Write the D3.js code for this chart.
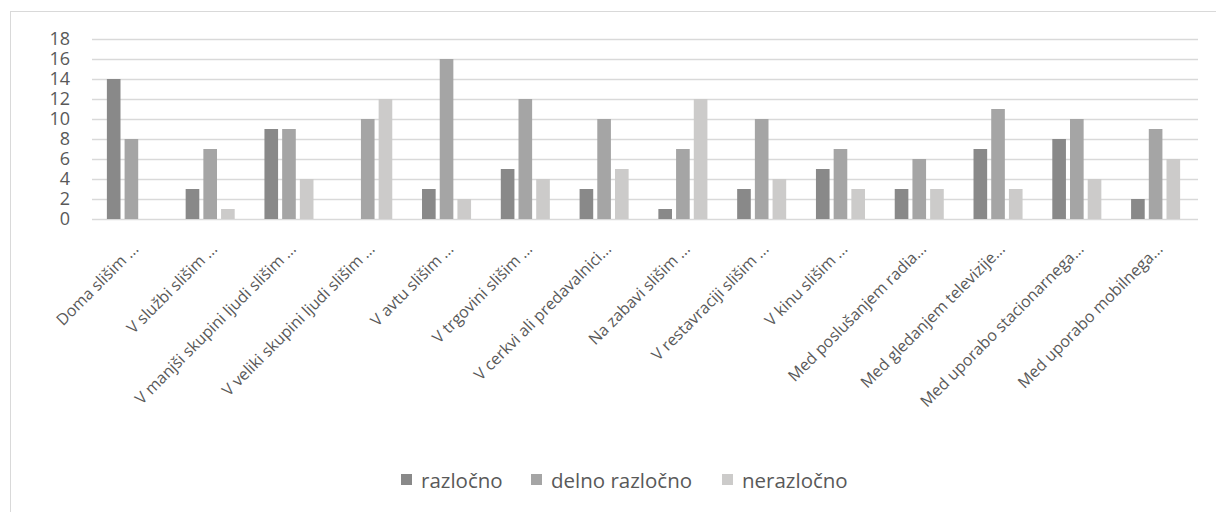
<!DOCTYPE html>
<html><head><meta charset="utf-8">
<script src="https://cdn.jsdelivr.net/npm/d3@7"></script>
<style>body{margin:0;background:#fff}svg{display:block}text{font-family:"Open Sans",sans-serif;fill:#595959}</style>
</head><body><svg id="c" width="1216" height="512"></svg>
<script>
const categories = ["Doma slišim ...","V službi slišim ...","V manjši skupini ljudi slišim ...","V veliki skupini ljudi slišim ...","V avtu slišim ...","V trgovini slišim ...","V cerkvi ali predavalnici...","Na zabavi slišim ...","V restavraciji slišim ...","V kinu slišim ...","Med poslušanjem radia...","Med gledanjem televizije...","Med uporabo stacionarnega...","Med uporabo mobilnega..."];
const seriesNames = ["razločno","delno razločno","nerazločno"];
const razlocno = [14,3,9,0,3,5,3,1,3,5,3,7,8,2];
const delnoRazlocno = [8,7,9,10,16,12,10,7,10,7,6,11,10,9];
const nerazlocno = [0,1,4,12,2,4,5,12,4,3,3,3,4,6];
const yTicks = [0,2,4,6,8,10,12,14,16,18];
const colors = ["#898989","#a5a5a5","#cccbca"];

const values = [razlocno, delnoRazlocno, nerazlocno];
const svg = d3.select("#c");
svg.append("rect").attr("x",10.5).attr("y",11.5).attr("width",1220).attr("height",520)
  .attr("fill","none").attr("stroke","#d9d9d9");

const x0 = d3.scaleBand().domain(categories).range([92,1195]).padding(0);
const x1 = d3.scaleBand().domain(seriesNames).range([0,x0.bandwidth()]).paddingInner(0.23).paddingOuter(0.84);
const y = d3.scaleLinear().domain([0,18]).range([219,39]);

// gridlines
svg.append("g").selectAll("line").data(yTicks).join("line")
  .attr("x1",92).attr("x2",1198).attr("y1",d=>y(d)+0.5).attr("y2",d=>y(d)+0.5)
  .attr("stroke","#d9d9d9").attr("stroke-width",1.3);

// y axis labels
const ya = svg.append("g").attr("transform","translate(70,0)")
  .call(d3.axisLeft(y).tickValues(yTicks).tickSize(0).tickPadding(0));
ya.select(".domain").remove();
ya.selectAll("text").style("font-size","18px").style("font-family","'Open Sans',sans-serif").attr("fill","#595959");

// bars
const g = svg.append("g");
seriesNames.forEach((s,si)=>{
  g.append("g").selectAll("rect").data(categories).join("rect")
    .attr("x",c=>x0(c)+x1(s)).attr("width",x1.bandwidth())
    .attr("y",(c,i)=>y(values[si][i])).attr("height",(c,i)=>y(0)-y(values[si][i]))
    .attr("fill",colors[si]);
});

// x labels
const xa = svg.append("g").attr("transform","translate(0,219)")
  .call(d3.axisBottom(x0).tickSize(0).tickPadding(0));
xa.select(".domain").remove();
xa.selectAll("text").style("font-size","16px").style("font-family","'Open Sans',sans-serif").attr("fill","#595959")
  .attr("text-anchor","end").attr("dy",null).attr("y",null)
  .attr("transform","translate(8,31) rotate(-45)");

// legend
const lx = [401,531,722];
const lg = svg.append("g");
seriesNames.forEach((s,i)=>{
  lg.append("rect").attr("x",lx[i]).attr("y",474).attr("width",11).attr("height",11).attr("fill",colors[i]);
  lg.append("text").attr("x",lx[i]+20).attr("y",488).text(s).style("font-size","20.5px");
});
</script></body></html>
